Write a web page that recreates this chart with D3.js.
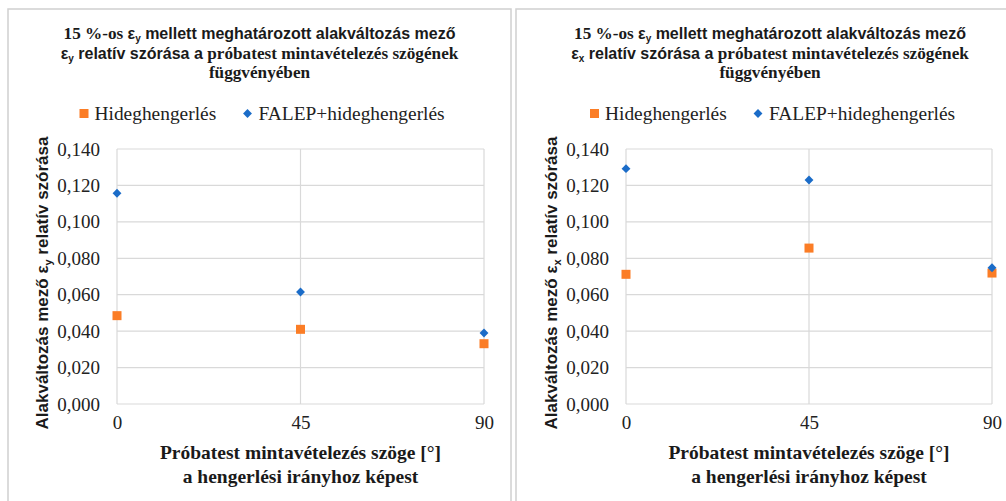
<!DOCTYPE html>
<html>
<head>
<meta charset="utf-8">
<script src="https://cdn.jsdelivr.net/npm/d3@7"></script>
<style>
  body { margin: 0; background: #fff; }
  svg { display: block; }
</style>
</head>
<body>
<svg id="chart" width="1006" height="501"></svg>
<script>
// data
var angles = [0, 45, 90];
var seriesNames = ['Hideghengerlés', 'FALEP+hideghengerlés'];
var hidegEy = [0.0485, 0.0410, 0.0331];
var falepEy = [0.1157, 0.0615, 0.0390];
var hidegEx = [0.0712, 0.0856, 0.0719];
var falepEx = [0.1292, 0.1230, 0.0748];
var yTicks = [0, 0.02, 0.04, 0.06, 0.08, 0.1, 0.12, 0.14];
var xTicks = [0, 45, 90];

var SERIF = '"Liberation Serif", "DejaVu Serif", serif';
var SANS = '"Liberation Sans", "DejaVu Sans", sans-serif';

var orange = '#fb7d26';
var blue = '#1b6cc8';
var grid = '#d9d9d9';

var huFormat = d3.formatLocale({decimal: ',', thousands: ' ', grouping: [3], currency: ['', ' Ft']}).format('.3f');

var svg = d3.select('#chart');

function draw_panel(p)
{
  var g = svg.append('g');

  // panel frame
  g.append('rect')
   .attr('x', p.left).attr('y', 9)
   .attr('width', p.width).attr('height', 520)
   .attr('fill', '#fff')
   .attr('stroke', '#d0d0d0')
   .attr('stroke-width', 1.5);

  var cx = p.left + p.width / 2;

  // title, mixed serif / sans like the original
  var title = g.append('text')
    .attr('text-anchor', 'middle')
    .attr('font-weight', 'bold')
    .attr('font-size', 17.2)
    .style('font-family', SERIF)
    .attr('fill', '#1a1a1a');

  var l1 = title.append('tspan').attr('x', cx).attr('y', 39);
  l1.append('tspan').text('15 %-os ');
  l1.append('tspan').style('font-family', SANS).attr('font-size', 16).text('ε');
  l1.append('tspan').style('font-family', SANS).attr('font-size', 10).attr('dy', 3).text('y');
  l1.append('tspan').style('font-family', SANS).attr('font-size', 16).attr('dy', -3).text(' mellett meghatározott alakváltozás mező');

  var l2 = title.append('tspan').attr('x', cx).attr('y', 59);
  l2.append('tspan').style('font-family', SANS).attr('font-size', 16).text('ε');
  l2.append('tspan').style('font-family', SANS).attr('font-size', 10).attr('dy', 3).text(p.sub);
  l2.append('tspan').style('font-family', SANS).attr('font-size', 16).attr('dy', -3).text(' relatív szórása a ');
  l2.append('tspan').text('próbatest mintavételezés szögének');

  title.append('tspan').attr('x', cx).attr('y', 78).text('függvényében');

  // legend
  var lg = g.append('g').style('font-family', SERIF).attr('font-size', 19.4).attr('fill', '#222');
  var lx = cx - 180;
  lg.append('rect').attr('x', lx).attr('y', 109).attr('width', 9).attr('height', 9).attr('fill', orange);
  lg.append('text').attr('x', lx + 15).attr('y', 120).text(seriesNames[0]);
  lg.append('path')
    .attr('d', d3.symbol().type(d3.symbolDiamond2).size(50))
    .attr('transform', 'translate(' + (lx + 168) + ',113.5)')
    .attr('fill', blue);
  lg.append('text').attr('x', lx + 179).attr('y', 120).text(seriesNames[1]);

  // scales
  var x = d3.scaleLinear().domain([0, 90]).range([p.plotLeft, p.plotRight]);
  var y = d3.scaleLinear().domain([0, 0.14]).range([404, 149]);

  // gridlines
  g.append('g').selectAll('line.h')
   .data(yTicks).enter().append('line')
   .attr('x1', x(0)).attr('x2', x(90))
   .attr('y1', d => y(d)).attr('y2', d => y(d))
   .attr('stroke', grid).attr('stroke-width', 1.2);

  g.append('g').selectAll('line.v')
   .data(xTicks).enter().append('line')
   .attr('x1', d => x(d)).attr('x2', d => x(d))
   .attr('y1', y(0)).attr('y2', y(0.14))
   .attr('stroke', grid).attr('stroke-width', 1.2);

  // axes (text only)
  var ya = g.append('g')
    .attr('transform', 'translate(' + p.plotLeft + ',0)')
    .call(d3.axisLeft(y).tickValues(yTicks).tickFormat(huFormat).tickSize(0).tickPadding(17));
  ya.select('.domain').remove();
  ya.selectAll('text').style('font-family', SERIF).attr('font-size', 19).attr('fill', '#222');

  var xa = g.append('g')
    .attr('transform', 'translate(0,404)')
    .call(d3.axisBottom(x).tickValues(xTicks).tickFormat(d3.format('d')).tickSize(0).tickPadding(12));
  xa.select('.domain').remove();
  xa.selectAll('text').style('font-family', SERIF).attr('font-size', 19).attr('fill', '#222');

  // axis titles
  var pc = (p.plotLeft + p.plotRight) / 2;
  var xt = g.append('text').style('font-family', SERIF)
    .attr('text-anchor', 'middle').attr('font-weight', 'bold')
    .attr('font-size', 19.5).attr('fill', '#1a1a1a');
  xt.append('tspan').attr('x', pc).attr('y', 459).text('Próbatest mintavételezés szöge [°]');
  xt.append('tspan').attr('x', pc).attr('y', 483).text('a hengerlési irányhoz képest');

  var yt = g.append('text').style('font-family', SANS)
    .attr('text-anchor', 'middle').attr('font-weight', 'bold')
    .attr('font-size', 17).attr('fill', '#1a1a1a')
    .attr('transform', 'translate(' + p.yTitleX + ',283) rotate(-90)');
  yt.append('tspan').text('Alakváltozás mező ' + p.gap + 'ε');
  yt.append('tspan').attr('font-size', 11).attr('dy', 4).text(p.sub);
  yt.append('tspan').attr('dy', -4).text(' relatív szórása');

  // points
  g.append('g').selectAll('rect')
   .data(angles.map((a, i) => ({a: a, v: p.hideg[i]})))
   .enter().append('rect')
   .attr('x', d => x(d.a) - 4.5).attr('y', d => y(d.v) - 4.5)
   .attr('width', 9).attr('height', 9)
   .attr('fill', orange);

  g.append('g').selectAll('path')
   .data(angles.map((a, i) => ({a: a, v: p.falep[i]})))
   .enter().append('path')
   .attr('d', d3.symbol().type(d3.symbolDiamond2).size(50))
   .attr('transform', d => 'translate(' + x(d.a) + ',' + y(d.v) + ')')
   .attr('fill', blue);
}

draw_panel({left: 8, width: 503, plotLeft: 117, plotRight: 484, yTitleX: 48, sub: 'y', gap: '', hideg: hidegEy, falep: falepEy});
draw_panel({left: 516, width: 508, plotLeft: 626, plotRight: 992, yTitleX: 557, sub: 'x', gap: ' ', hideg: hidegEx, falep: falepEx});
</script>
</body>
</html>
